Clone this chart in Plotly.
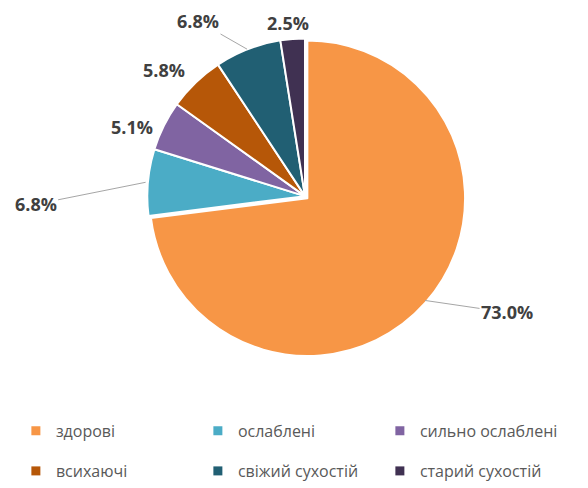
import math
import plotly.graph_objects as go

labels = ["здорові", "ослаблені", "сильно ослаблені", "всихаючі", "свіжий сухостій", "старий сухостій"]
values = [73.0, 6.8, 5.1, 5.8, 6.8, 2.5]
colors = ["#F79646", "#4BACC6", "#8064A2", "#B65708", "#215F73", "#403152"]
pulls = [0.02, 0, 0, 0, 0, 0]

# label styling: pixel offsets of each data label from its slice edge, and whether a leader line is drawn
label_dx = [82, -110, -30, -30, -49, -4]
label_dy = [12, 22, 1, -13, -28, -16]
leader = [True, True, False, False, True, False]

W, H = 588, 488
CX, CY, R = 305, 199, 160  # pie centre / radius in pixels (layout)
maxpull = max(pulls)
size = 2 * R * (1 + maxpull)
dom_x = [(CX - size / 2) / W, (CX + size / 2) / W]
dom_y = [(H - CY - size / 2) / H, (H - CY + size / 2) / H]

fig = go.Figure()
fig.add_trace(go.Pie(
    labels=labels,
    values=values,
    sort=False,
    direction="clockwise",
    rotation=0,
    pull=pulls,
    marker=dict(colors=colors, line=dict(color="white", width=2)),
    textinfo="none",
    domain=dict(x=dom_x, y=dom_y),
    hoverinfo="label+value",
    showlegend=False,
))

# data labels positioned from slice mid-angles
total = sum(values)
cum = 0
for i, v in enumerate(values):
    mid = (cum + v / 2) / total * 2 * math.pi
    cum += v
    px = CX + R * math.sin(mid)
    py = CY - R * math.cos(mid)
    fig.add_annotation(
        x=px / W, y=(H - py) / H, xref="paper", yref="paper",
        text=f"{v:.1f}%",
        showarrow=True, arrowhead=0, arrowwidth=1,
        arrowcolor="#A6A6A6" if leader[i] else "rgba(0,0,0,0)",
        ax=label_dx[i], ay=label_dy[i],
        font=dict(family="Open Sans", size=18, color="#404040", weight="bold"),
    )

# legend entries (two rows of three)
for i, (lab, col) in enumerate(zip(labels, colors)):
    fig.add_trace(go.Scatter(
        x=[None], y=[None], mode="markers", name=lab,
        marker=dict(symbol="square", size=9, color=col),
        legend="legend" if i < 3 else "legend2",
    ))

legend_style = dict(
    orientation="h", xanchor="left", yanchor="middle",
    entrywidth=137,
    font=dict(family="Open Sans", size=16, color="#595959"),
    itemwidth=30, traceorder="normal", bgcolor="rgba(0,0,0,0)",
)

fig.update_layout(
    width=W, height=H,
    margin=dict(l=0, r=0, t=0, b=0),
    paper_bgcolor="white", plot_bgcolor="white",
    xaxis=dict(visible=False), yaxis=dict(visible=False),
    showlegend=True,
    legend=dict(x=0.027, y=(H - 437) / H, **legend_style),
    legend2=dict(x=0.027, y=(H - 478) / H, **legend_style),
)

fig.write_html("out.html")
